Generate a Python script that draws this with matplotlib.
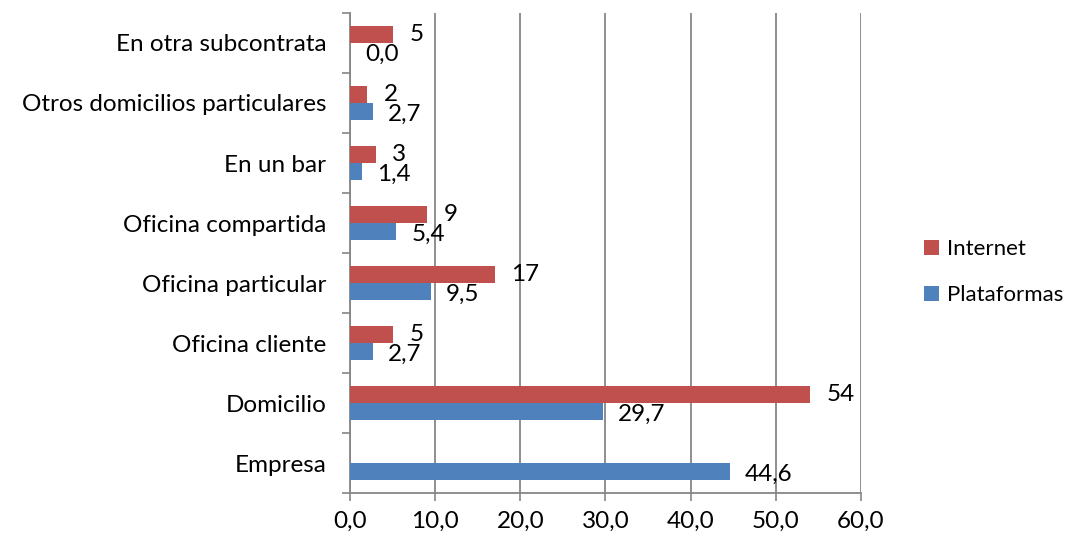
import numpy as np
import matplotlib.pyplot as plt

plt.rcParams['font.family'] = ['Lato', 'DejaVu Sans']

# Datos por lugar de trabajo (de abajo hacia arriba)
lugares = ['Empresa', 'Domicilio', 'Oficina cliente', 'Oficina particular',
           'Oficina compartida', 'En un bar', 'Otros domicilios particulares',
           'En otra subcontrata']
internet = [None, 54, 5, 17, 9, 3, 2, 5]
plataformas = [44.6, 29.7, 2.7, 9.5, 5.4, 1.4, 2.7, 0.0]

rojo = '#C0504D'
azul = '#4F81BD'
gris = '#868686'
fs = 17.5

fig = plt.figure(figsize=(10.75, 5.39), dpi=100)
ax = fig.add_axes([0.3256, 0.0853, 0.4753, 0.8906])

y = np.arange(len(lugares))
h = 0.285

for i, v in enumerate(internet):
    if v is None:
        continue
    ax.barh(y[i] + h / 2, v, height=h, color=rojo, label='Internet' if i == 1 else None, zorder=3)
    ax.annotate(f'{v}', (v, y[i] + h / 2), xytext=(12, 0), textcoords='offset points',
                ha='left', va='center', fontsize=fs)

ax.barh(y - h / 2, plataformas, height=h, color=azul, label='Plataformas', zorder=3)
for i, v in enumerate(plataformas):
    ax.annotate(f'{v:.1f}'.replace('.', ','), (v, y[i] - h / 2 - 0.05), xytext=(11, 0),
                textcoords='offset points', ha='left', va='center', fontsize=fs)

ax.set_xlim(0, 60)
ax.set_ylim(-0.5, len(lugares) - 0.5)
ax.set_xticks(range(0, 61, 10))
ax.set_xticklabels([f'{t},0' for t in range(0, 61, 10)], fontsize=fs)

# marcas entre categorías, etiquetas en el centro
ax.set_yticks(np.arange(-0.5, len(lugares), 1.0))
ax.set_yticklabels([])
ax.set_yticks(y, minor=True)
ax.set_yticklabels(lugares, minor=True, fontsize=fs)
ax.tick_params(axis='y', which='minor', length=0, pad=17)
ax.tick_params(axis='y', which='major', length=6, color=gris, width=1.2)
ax.tick_params(axis='x', length=6, color=gris, width=1.2, pad=7)

ax.grid(axis='x', color=gris, linewidth=1.3, zorder=0)
for s in ['top', 'right']:
    ax.spines[s].set_visible(False)
for s in ['left', 'bottom']:
    ax.spines[s].set_color(gris)
    ax.spines[s].set_linewidth(1.3)

ax.legend(loc='center left', bbox_to_anchor=(1.085, 0.46), frameon=False, fontsize=16,
          handlelength=0.65, handleheight=0.65, labelspacing=1.15, handletextpad=0.35)

fig.savefig('out.png', dpi=100)
